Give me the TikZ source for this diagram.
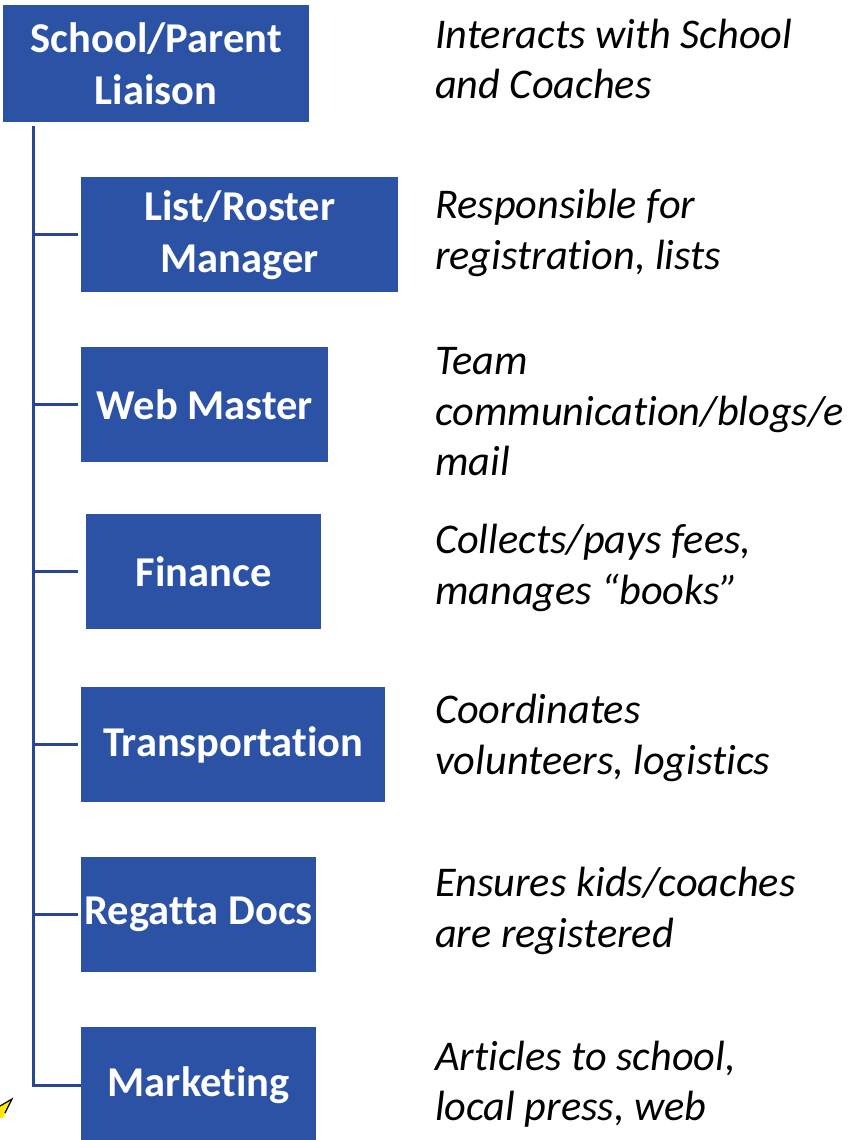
\documentclass[tikz,border=0pt]{standalone}
\usepackage{fontspec}
\setmainfont[Ligatures=NoCommon]{Carlito}
\definecolor{boxblue}{RGB}{43,82,165}
\definecolor{lineblue}{RGB}{40,70,145}
\begin{document}
\begin{tikzpicture}[x=1pt,y=-1pt,
  role/.style={fill=boxblue, text=white, font=\fontsize{42.5}{52}\selectfont\bfseries, align=center, inner sep=0pt, anchor=north west},
  desc/.style={font=\fontsize{42.3}{50.5}\selectfont\itshape, align=left, anchor=west, inner sep=0pt},
  conn/.style={draw=lineblue, line width=3pt}]
\useasboundingbox (0,0) rectangle (850,1140);
% boxes
\node[role, minimum width=306pt, minimum height=117pt] (top) at (3,5) {School/Parent\\Liaison};
\node[role, minimum width=317pt, minimum height=115pt] (lrm) at (81,177) {List/Roster\\Manager};
\node[role, minimum width=247pt, minimum height=115pt] (web) at (81,347) {Web Master};
\node[role, minimum width=235pt, minimum height=115pt] (fin) at (86,514) {Finance};
\node[role, minimum width=304pt, minimum height=115pt] (trn) at (81,687) {Transportation};
\node[role, minimum width=235pt, minimum height=115pt] (reg) at (81,857) {Regatta Docs};
\node[role, minimum width=235pt, minimum height=115pt] (mkt) at (81,1027) {Marketing};
% descriptions
\node[desc] (d0) at (435,59) {Interacts with School\\and Coaches};
\node[desc] (d1) at (435,233) {Responsible for\\registration, lists};
\node[desc] (d2) at (435,412) {Team\\communication/blogs/e\\mail};
\node[desc] (d3) at (435,568) {Collects/pays fees,\\manages “books”};
\node[desc] (d4) at (435,738) {Coordinates\\volunteers, logistics};
\node[desc] (d5) at (435,911) {Ensures kids/coaches\\are registered};
\node[desc] (d6) at (435,1084) {Articles to school,\\local press, web};
% connectors
\coordinate (trunk) at (33,126);
\coordinate (tend) at (33,1085);
\draw[conn] (trunk) -- (tend) -- (mkt.west |- tend);
\draw[conn, shorten >=3pt] (trunk |- lrm.west) -- (lrm.west);
\draw[conn, shorten >=3pt] (trunk |- web.west) -- (web.west);
\draw[conn, shorten >=8pt] (trunk |- fin.west) -- (fin.west);
\draw[conn, shorten >=3pt] (trunk |- trn.west) -- (trn.west);
\draw[conn, shorten >=3pt] (trunk |- reg.west) -- (reg.west);
% clip-art fragment
\fill[yellow!90!orange] (0,1106) -- (12,1099) -- (3,1118) -- (0,1118) -- cycle;
\draw[black, line width=1.2pt] (0,1106) -- (12,1099) -- (5,1113);
\end{tikzpicture}
\end{document}
